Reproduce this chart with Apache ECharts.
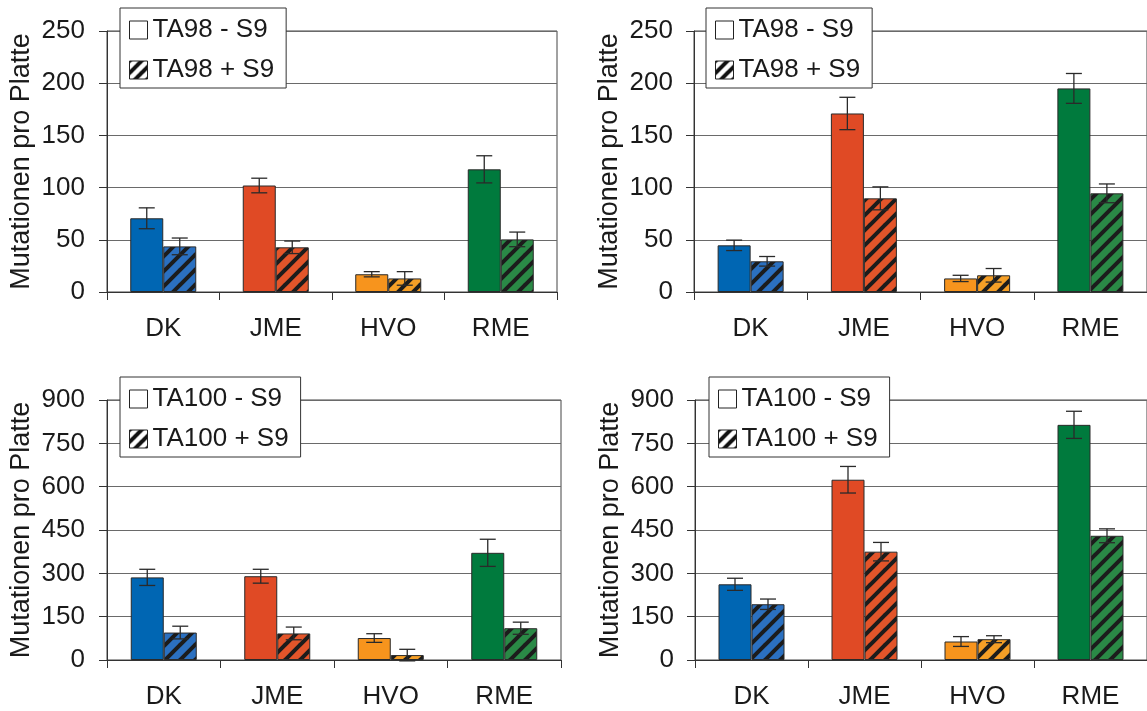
<!DOCTYPE html>
<html>
<head>
<meta charset="utf-8">
<script src="https://cdn.jsdelivr.net/npm/echarts@6/dist/echarts.min.js"></script>
<style>
html,body{margin:0;padding:0;background:#fff;}
#chart{width:1147px;height:711px;}
</style>
</head>
<body>
<div id="chart"></div>
<script>
// ---- data ----
const categories = ['DK', 'JME', 'HVO', 'RME'];

const ta98A_minus = [70.6, 102, 17, 117.5];
const ta98A_minusErr = [10, 7, 2.5, 13];
const ta98A_plus = [43.7, 42.8, 13, 50.4];
const ta98A_plusErr = [8, 6, 6.5, 7];

const ta98B_minus = [44.7, 171, 13, 195];
const ta98B_minusErr = [5, 15.5, 3, 14.3];
const ta98B_plus = [29.4, 89.7, 16, 94.5];
const ta98B_plusErr = [4.6, 11, 6.5, 9];

const ta100A_minus = [286, 290, 76, 371];
const ta100A_minusErr = [28, 24, 15, 47];
const ta100A_plus = [95, 92, 17, 110];
const ta100A_plusErr = [22, 22, 20, 21];

const ta100B_minus = [262, 624, 64, 814];
const ta100B_minusErr = [21, 46, 17, 47];
const ta100B_plus = [193, 375, 72, 430];
const ta100B_plusErr = [18, 32, 12, 24];

const ta98Ticks = {min: 0, max: 250, interval: 50};
const ta100Ticks = {min: 0, max: 900, interval: 150};

// ---- styles ----
const solidColors = ['#0066b3', '#e04a25', '#f7941d', '#007a3d'];
const hatchColors = ['#2b70c0', '#e3552a', '#f59f26', '#2a8946'];
const FONT = "'Liberation Sans', Arial, Helvetica, sans-serif";
const BAR_W = 33;

function makeHatch(base, stripe, size, lw) {
  const c = document.createElement('canvas');
  c.width = size; c.height = size;
  const ctx = c.getContext('2d');
  ctx.fillStyle = base;
  ctx.fillRect(0, 0, size, size);
  ctx.strokeStyle = stripe;
  ctx.lineWidth = lw;
  ctx.lineCap = 'square';
  for (let a = -size; a <= size; a += size) {
    ctx.beginPath();
    ctx.moveTo(a, size);
    ctx.lineTo(a + size, 0);
    ctx.stroke();
  }
  return {image: c, repeat: 'repeat'};
}
const hatchPatterns = hatchColors.map(c => makeHatch(c, '#1c1c1c', 15, 4));
const legendHatch = makeHatch('#ffffff', '#111111', 12, 4);

const panels = [
  {grid: {left: 107, top: 31, width: 450, height: 261}, ticks: ta98Ticks,
   minus: ta98A_minus, minusErr: ta98A_minusErr, plus: ta98A_plus, plusErr: ta98A_plusErr,
   names: ['TA98 - S9', 'TA98 + S9'], legend: {left: 120, top: 8}, nameGap: 72, labelMargin: 22},
  {grid: {left: 694, top: 31, width: 455, height: 261}, ticks: ta98Ticks,
   minus: ta98B_minus, minusErr: ta98B_minusErr, plus: ta98B_plus, plusErr: ta98B_plusErr,
   names: ['TA98 - S9', 'TA98 + S9'], legend: {left: 706, top: 8}, nameGap: 71, labelMargin: 21},
  {grid: {left: 107, top: 400, width: 454, height: 260}, ticks: ta100Ticks,
   minus: ta100A_minus, minusErr: ta100A_minusErr, plus: ta100A_plus, plusErr: ta100A_plusErr,
   names: ['TA100 - S9', 'TA100 + S9'], legend: {left: 120, top: 377}, nameGap: 72, labelMargin: 22},
  {grid: {left: 695, top: 400, width: 455, height: 260}, ticks: ta100Ticks,
   minus: ta100B_minus, minusErr: ta100B_minusErr, plus: ta100B_plus, plusErr: ta100B_plusErr,
   names: ['TA100 - S9', 'TA100 + S9'], legend: {left: 709, top: 377}, nameGap: 71, labelMargin: 21}
];

function errSeries(idx, vals, errs, sign) {
  return {
    type: 'custom',
    name: 'err' + idx + sign,
    xAxisIndex: idx, yAxisIndex: idx,
    z: 5, clip: false, silent: true,
    data: vals.map((v, i) => [i, v, errs[i]]),
    encode: {x: 0, y: 1},
    renderItem: function (params, api) {
      const ci = api.value(0), v = api.value(1), e = api.value(2);
      const hi = api.coord([ci, v + e]);
      const lo = api.coord([ci, v - e]);
      const x = hi[0] + sign * BAR_W / 2;
      const cap = 8;
      const st = {stroke: '#2a2a2a', lineWidth: 1.3};
      return {type: 'group', children: [
        {type: 'line', shape: {x1: x, y1: hi[1], x2: x, y2: lo[1]}, style: st},
        {type: 'line', shape: {x1: x - cap, y1: hi[1], x2: x + cap, y2: hi[1]}, style: st},
        {type: 'line', shape: {x1: x - cap, y1: lo[1], x2: x + cap, y2: lo[1]}, style: st}
      ]};
    }
  };
}

const option = {
  animation: false,
  textStyle: {fontFamily: FONT},
  grid: [], xAxis: [], yAxis: [], legend: [], series: []
};

panels.forEach((p, idx) => {
  option.grid.push(Object.assign({show: true, borderColor: '#444', borderWidth: 1,
    backgroundColor: 'transparent', containLabel: false}, p.grid));
  option.xAxis.push({
    type: 'category', gridIndex: idx, data: categories,
    axisLine: {lineStyle: {color: '#333', width: 1}},
    axisTick: {show: true, length: 8, interval: 0, lineStyle: {color: '#333'}},
    axisLabel: {fontSize: 26, color: '#1a1a1a', margin: 24, fontFamily: FONT, interval: 0},
    splitLine: {show: false}
  });
  option.yAxis.push({
    type: 'value', gridIndex: idx,
    min: p.ticks.min, max: p.ticks.max, interval: p.ticks.interval,
    name: 'Mutationen pro Platte', nameLocation: 'middle', nameGap: p.nameGap,
    nameTextStyle: {fontSize: 27, color: '#1a1a1a', fontFamily: FONT},
    axisLine: {show: true, lineStyle: {color: '#333', width: 1}},
    axisTick: {show: true, length: 8, lineStyle: {color: '#333'}},
    axisLabel: {fontSize: 26, color: '#1a1a1a', margin: p.labelMargin, fontFamily: FONT},
    splitLine: {show: true, lineStyle: {color: '#6a6a6a', width: 1}}
  });
  option.legend.push(Object.assign({
    orient: 'vertical',
    backgroundColor: '#fff', borderColor: '#333', borderWidth: 1,
    padding: [9, 12, 5, 9],
    itemWidth: 18, itemHeight: 18, itemGap: 14,
    icon: 'rect',
    textStyle: {fontSize: 26, color: '#1a1a1a', fontFamily: FONT},
    selectedMode: false, z: 10,
    data: [
      {name: p.names[0], icon: 'rect', itemStyle: {color: '#fff', borderColor: '#222', borderWidth: 1}},
      {name: p.names[1], icon: 'rect', itemStyle: {color: legendHatch, borderColor: '#222', borderWidth: 1}}
    ]
  }, p.legend));
  option.series.push({
    type: 'bar', name: p.names[0], xAxisIndex: idx, yAxisIndex: idx,
    barWidth: BAR_W, barGap: '0%',
    itemStyle: {color: '#fff', borderColor: '#2a2a2a', borderWidth: 1},
    data: p.minus.map((v, i) => ({value: v, itemStyle: {color: solidColors[i]}}))
  });
  option.series.push({
    type: 'bar', name: p.names[1], xAxisIndex: idx, yAxisIndex: idx,
    barWidth: BAR_W, barGap: '0%',
    itemStyle: {color: legendHatch, borderColor: '#2a2a2a', borderWidth: 1},
    data: p.plus.map((v, i) => ({value: v, itemStyle: {color: hatchPatterns[i]}}))
  });
  option.series.push(errSeries(idx, p.minus, p.minusErr, -1));
  option.series.push(errSeries(idx, p.plus, p.plusErr, 1));
});

const chart = echarts.init(document.getElementById('chart'), null, {renderer: 'canvas'});
chart.setOption(option);
</script>
</body>
</html>
